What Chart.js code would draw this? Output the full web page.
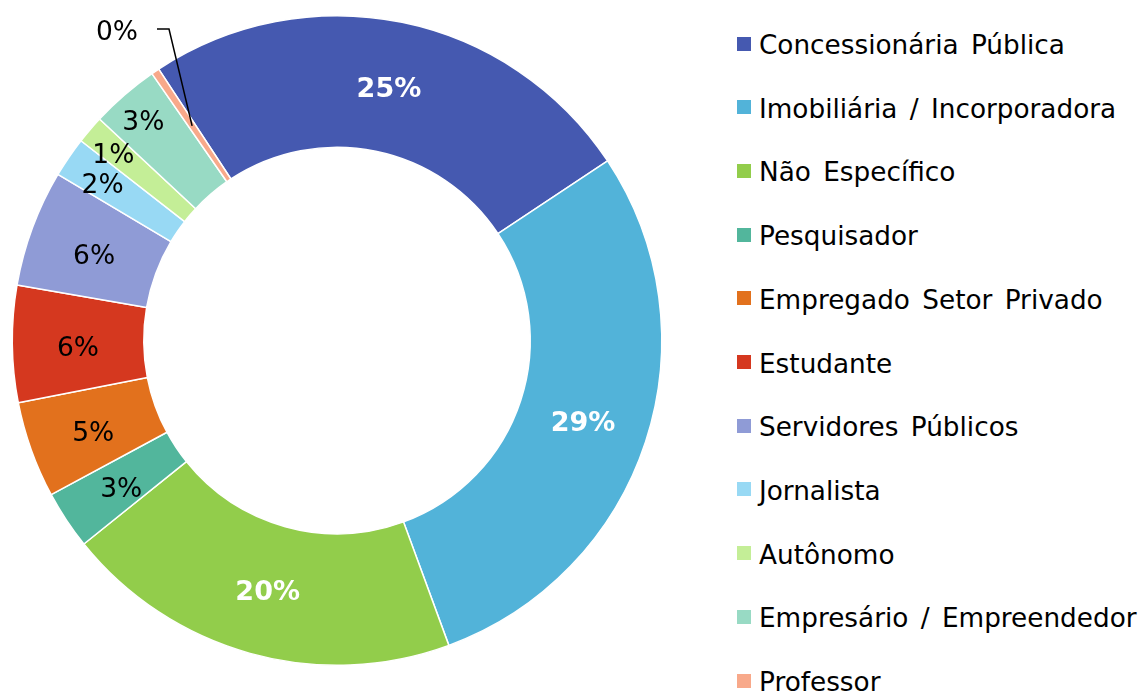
<!DOCTYPE html>
<html>
<head>
<meta charset="utf-8">
<script src="https://cdn.jsdelivr.net/npm/chart.js@4"></script>
<style>
  html, body { margin: 0; padding: 0; background: #fff; }
  body { width: 1141px; height: 693px; position: relative; overflow: hidden; font-family: "DejaVu Sans", Verdana, sans-serif; }
  #wrap { position: absolute; left: 0; top: 0; width: 674px; height: 693px; }
  #legend { position: absolute; left: 737px; top: 0; margin: 0; padding: 0; list-style: none; }
  #legend li { position: absolute; left: 0; height: 34px; line-height: 34px; white-space: nowrap; font-size: 26.3px; word-spacing: 4px; color: #000; }
  #legend span.box { display: inline-block; width: 14px; height: 14px; margin-right: 8px; vertical-align: middle; position: relative; top: -3px; }
</style>
</head>
<body>
<div id="wrap"><canvas id="donut"></canvas></div>
<ul id="legend"></ul>
<script>
// categorias e valores (%)
const categorias = [
  'Concessionária Pública',
  'Imobiliária / Incorporadora',
  'Não Específico',
  'Pesquisador',
  'Empregado Setor Privado',
  'Estudante',
  'Servidores Públicos',
  'Jornalista',
  'Autônomo',
  'Empresário / Empreendedor',
  'Professor'
];
const valores = [24.9, 28.7, 19.8, 2.9, 4.8, 5.8, 5.8, 2.0, 1.4, 3.4, 0.4];
const rotulos = ['25%', '29%', '20%', '3%', '5%', '6%', '6%', '2%', '1%', '3%', '0%'];

const cores = ['#4559B0', '#52B3D9', '#92CD4B', '#52B69C', '#E2711D', '#D5381F',
               '#8F9BD6', '#98D9F4', '#C4EE97', '#98DAC4', '#F8A98A'];

// rótulos brancos em negrito nas fatias grandes
const negrito = [true, true, true, false, false, false, false, false, false, false, false];

// legenda em HTML (texto real)
const leg = document.getElementById('legend');
categorias.forEach((c, i) => {
  const li = document.createElement('li');
  li.style.top = (28 + i * 63.7) + 'px';
  li.innerHTML = '<span class="box" style="background:' + cores[i] + '"></span>' + c;
  leg.appendChild(li);
});

// plugin simples para os rótulos de porcentagem
const rotuloPlugin = {
  id: 'rotulos',
  afterDatasetsDraw(chart) {
    const ctx = chart.ctx;
    const meta = chart.getDatasetMeta(0);
    ctx.save();
    meta.data.forEach((arc, i) => {
      const p = arc.getProps(['x', 'y', 'startAngle', 'endAngle', 'innerRadius', 'outerRadius'], true);
      const mid = (p.startAngle + p.endAngle) / 2;
      const rMid = (p.innerRadius + p.outerRadius) / 2;
      ctx.font = (negrito[i] ? 'bold 27px' : '26.5px') + ' "DejaVu Sans", Verdana, sans-serif';
      ctx.fillStyle = negrito[i] ? '#fff' : '#000';
      ctx.textBaseline = 'middle';

      if (i === 10) {
        // fatia minúscula: rótulo fora com linha guia
        const ax = p.x + rMid * Math.cos(mid);
        const ay = p.y + rMid * Math.sin(mid);
        ctx.strokeStyle = '#000';
        ctx.lineWidth = 1.5;
        ctx.beginPath();
        ctx.moveTo(ax, ay);
        ctx.lineTo(169, 29);
        ctx.lineTo(157, 29);
        ctx.stroke();
        ctx.textAlign = 'right';
        ctx.fillText(rotulos[i], 138, 33);
        return;
      }

      let r = rMid;
      if (i === 7) r = 284;
      if (i === 8) r = 294;
      if (i === 9) r = 296;
      const dy = negrito[i] ? 3 : 6;
      ctx.textAlign = 'center';
      ctx.fillText(rotulos[i], p.x + r * Math.cos(mid), p.y + r * Math.sin(mid) + dy);
    });
    ctx.restore();
  }
};

new Chart(document.getElementById('donut'), {
  type: 'doughnut',
  data: {
    labels: categorias,
    datasets: [{
      data: valores,
      backgroundColor: cores,
      borderColor: '#fff',
      borderWidth: 1.5
    }]
  },
  options: {
    responsive: true,
    maintainAspectRatio: false,
    animation: false,
    rotation: -33.3,
    cutout: '59.5%',
    layout: { padding: { top: 15, bottom: 27, left: 0, right: 0 } },
    plugins: {
      legend: { display: false },
      tooltip: { enabled: false }
    }
  },
  plugins: [rotuloPlugin]
});
</script>
</body>
</html>
